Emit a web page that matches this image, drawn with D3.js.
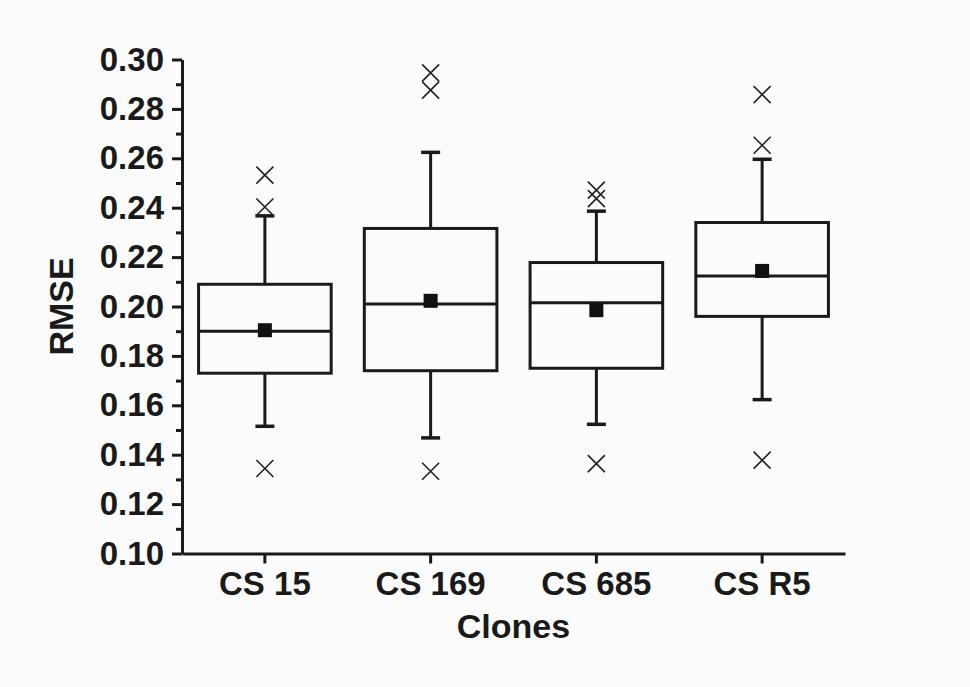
<!DOCTYPE html>
<html>
<head>
<meta charset="utf-8">
<script src="https://cdn.jsdelivr.net/npm/d3@7"></script>
<style>
  body { margin: 0; background: #fbfbfb; }
  svg { display: block; }
  text { font-family: "Liberation Sans", Arial, sans-serif; font-weight: bold; fill: #1a1a1a; }
</style>
</head>
<body>
<div id="chart"></div>
<script>
var svgWidth = 970;
var svgHeight = 687;

// box plot data
var categories = ["CS 15", "CS 169", "CS 685", "CS R5"];
var q1 = [0.173, 0.174, 0.175, 0.196];
var medians = [0.190, 0.201, 0.2015, 0.2123];
var q3 = [0.209, 0.2316, 0.2178, 0.234];
var whiskerLow = [0.1515, 0.1468, 0.1523, 0.1623];
var whiskerHigh = [0.2367, 0.2624, 0.2386, 0.2596];
var means = [0.1904, 0.2023, 0.1985, 0.2144];
var outliers = [
  [0.2532, 0.2403, 0.1344],
  [0.2946, 0.2876, 0.1333],
  [0.2471, 0.2437, 0.1364],
  [0.2858, 0.2653, 0.1378]
];
var yTicks = [0.10, 0.12, 0.14, 0.16, 0.18, 0.20, 0.22, 0.24, 0.26, 0.28, 0.30];
var yMinorTicks = [0.11, 0.13, 0.15, 0.17, 0.19, 0.21, 0.23, 0.25, 0.27, 0.29];

var chartMargin = { top: 59.5, right: 125, bottom: 133.5, left: 182 };
var chartWidth = svgWidth - chartMargin.left - chartMargin.right;
var chartHeight = svgHeight - chartMargin.top - chartMargin.bottom;

var ink = "#1a1a1a";

var svg = d3.select("#chart")
  .append("svg")
  .attr("width", svgWidth)
  .attr("height", svgHeight);

svg.append("rect")
  .attr("width", svgWidth)
  .attr("height", svgHeight)
  .attr("fill", "#fbfbfb");

var chartGroup = svg.append("g")
  .attr("transform", `translate(${chartMargin.left}, ${chartMargin.top})`);

var xScale = d3.scaleBand()
  .domain(categories)
  .range([0, chartWidth])
  .paddingInner(0.2)
  .paddingOuter(0.1);

var yScale = d3.scaleLinear()
  .domain([0.10, 0.30])
  .range([chartHeight, 0]);

// minor y ticks
chartGroup.append("g")
  .call(d3.axisLeft(yScale).tickValues(yMinorTicks).tickSize(6).tickFormat(""))
  .call(g => g.select(".domain").remove())
  .call(g => g.selectAll("line").attr("stroke", ink).attr("stroke-width", 3));

// y axis
var yAxis = chartGroup.append("g")
  .call(d3.axisLeft(yScale).tickValues(yTicks).tickSize(10).tickSizeOuter(0).tickPadding(8)
    .tickFormat(d3.format(".2f")));
yAxis.select(".domain").attr("stroke", ink).attr("stroke-width", 3);
yAxis.selectAll("line").attr("stroke", ink).attr("stroke-width", 3);
yAxis.selectAll("text")
  .style("font-size", "33px")
  .attr("fill", ink);

// x axis
var xAxis = chartGroup.append("g")
  .attr("transform", `translate(0, ${chartHeight})`)
  .call(d3.axisBottom(xScale).tickSize(10).tickSizeOuter(0).tickPadding(8));
xAxis.select(".domain").attr("stroke", ink).attr("stroke-width", 3);
xAxis.selectAll("line").attr("stroke", ink).attr("stroke-width", 3);
xAxis.selectAll("text")
  .style("font-size", "33px")
  .attr("fill", ink);

// boxes
var boxes = chartGroup.selectAll(".box")
  .data(categories)
  .enter()
  .append("g")
  .attr("class", "box");

var bw = xScale.bandwidth();
var cx = d => xScale(d) + bw / 2;
var capW = 19;

// whiskers
boxes.append("line")
  .attr("x1", cx).attr("x2", cx)
  .attr("y1", (d, i) => yScale(q3[i]))
  .attr("y2", (d, i) => yScale(whiskerHigh[i]))
  .attr("stroke", ink).attr("stroke-width", 3);
boxes.append("line")
  .attr("x1", cx).attr("x2", cx)
  .attr("y1", (d, i) => yScale(q1[i]))
  .attr("y2", (d, i) => yScale(whiskerLow[i]))
  .attr("stroke", ink).attr("stroke-width", 3);
boxes.append("line")
  .attr("x1", d => cx(d) - capW / 2).attr("x2", d => cx(d) + capW / 2)
  .attr("y1", (d, i) => yScale(whiskerHigh[i]))
  .attr("y2", (d, i) => yScale(whiskerHigh[i]))
  .attr("stroke", ink).attr("stroke-width", 3.5);
boxes.append("line")
  .attr("x1", d => cx(d) - capW / 2).attr("x2", d => cx(d) + capW / 2)
  .attr("y1", (d, i) => yScale(whiskerLow[i]))
  .attr("y2", (d, i) => yScale(whiskerLow[i]))
  .attr("stroke", ink).attr("stroke-width", 3.5);

// box rect
boxes.append("rect")
  .attr("x", d => xScale(d))
  .attr("width", bw)
  .attr("y", (d, i) => yScale(q3[i]))
  .attr("height", (d, i) => yScale(q1[i]) - yScale(q3[i]))
  .attr("fill", "none")
  .attr("stroke", ink)
  .attr("stroke-width", 3);

// median
boxes.append("line")
  .attr("x1", d => xScale(d)).attr("x2", d => xScale(d) + bw)
  .attr("y1", (d, i) => yScale(medians[i]))
  .attr("y2", (d, i) => yScale(medians[i]))
  .attr("stroke", ink).attr("stroke-width", 3);

// mean square
var sq = 14;
boxes.append("rect")
  .attr("x", d => cx(d) - sq / 2)
  .attr("y", (d, i) => yScale(means[i]) - sq / 2)
  .attr("width", sq).attr("height", sq)
  .attr("fill", "#111");

// outliers as crosses
var xs = 8.5;
boxes.each(function(d, i) {
  var g = d3.select(this);
  g.selectAll(".out")
    .data(outliers[i])
    .enter()
    .append("path")
    .attr("class", "out")
    .attr("d", v => {
      var x = cx(d), y = yScale(v);
      return `M${x - xs},${y - xs}L${x + xs},${y + xs}M${x - xs},${y + xs}L${x + xs},${y - xs}`;
    })
    .attr("fill", "none")
    .attr("stroke", "#222")
    .attr("stroke-width", 1.6);
});

// axis titles
chartGroup.append("text")
  .attr("x", chartWidth / 2)
  .attr("y", chartHeight + 84)
  .attr("text-anchor", "middle")
  .style("font-size", "34px")
  .text("Clones");

chartGroup.append("text")
  .attr("transform", "rotate(-90)")
  .attr("x", -chartHeight / 2)
  .attr("y", -109)
  .attr("text-anchor", "middle")
  .style("font-size", "34px")
  .text("RMSE");
</script>
</body>
</html>
